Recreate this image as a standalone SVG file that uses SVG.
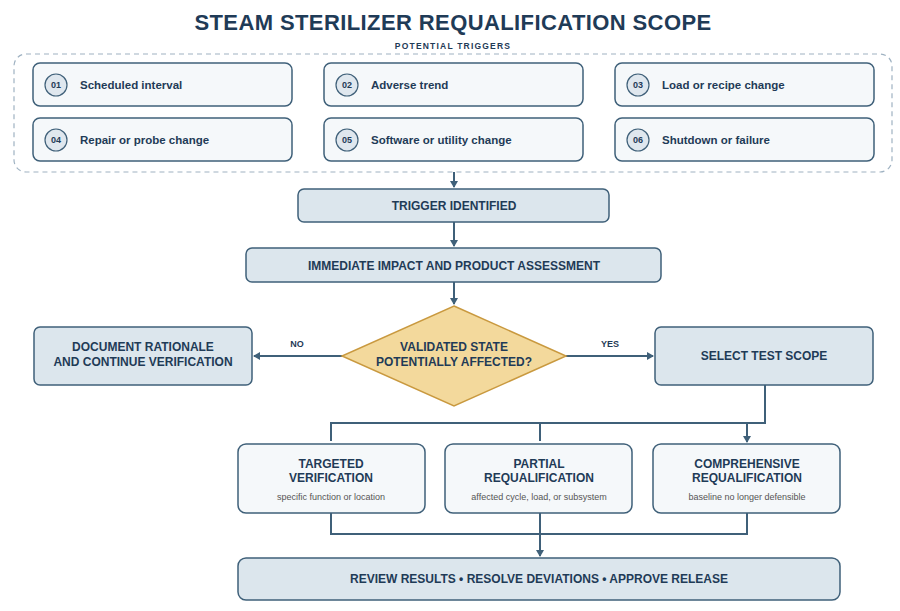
<svg xmlns="http://www.w3.org/2000/svg" width="900" height="611" viewBox="0 0 900 611">
<style>
text{font-family:"Liberation Sans",Arial,sans-serif;fill:#1f3b57;font-weight:bold}
.trig rect{fill:#f5f8fa;stroke:#3f6079;stroke-width:1.5}
.trig circle{fill:#dfe7ee;stroke:#3f6079;stroke-width:1.2}
.num{font-size:9px;text-anchor:middle}
.tl{font-size:11.5px}
.main{fill:#dce6ed;stroke:#3f6079;stroke-width:1.5}
.light{fill:#f5f8fa;stroke:#3f6079;stroke-width:1.5}
.c{text-anchor:middle;font-size:12px}
.sub{font-weight:normal;font-size:9px;fill:#555;text-anchor:middle}
.con{fill:none;stroke:#3f6079;stroke-width:2}
</style>
<defs><marker id="a" markerWidth="8" markerHeight="8" refX="6" refY="4" orient="auto" markerUnits="userSpaceOnUse"><path d="M0,0L7,4L0,8z" fill="#3f6079"/></marker></defs>
<rect width="900" height="611" fill="#fff"/>
<text x="453" y="30" text-anchor="middle" font-size="22" letter-spacing="0.4">STEAM STERILIZER REQUALIFICATION SCOPE</text>
<text x="453" y="49" text-anchor="middle" font-size="8.5" fill="#5a6f80" letter-spacing="1.2">POTENTIAL TRIGGERS</text>
<rect x="14" y="54" width="878" height="118" rx="12" fill="none" stroke="#9fb2c2" stroke-width="1.2" stroke-dasharray="5,4"/>
<g id="t1" class="trig"><rect x="33" y="63" width="259" height="43" rx="7"/><circle cx="56" cy="85" r="11"/><text class="num" x="56" y="88">01</text><text class="tl" x="80" y="89">Scheduled interval</text></g>
<g id="t2" class="trig"><rect x="324" y="63" width="259" height="43" rx="7"/><circle cx="347" cy="85" r="11"/><text class="num" x="347" y="88">02</text><text class="tl" x="371" y="89">Adverse trend</text></g>
<g id="t3" class="trig"><rect x="615" y="63" width="259" height="43" rx="7"/><circle cx="638" cy="85" r="11"/><text class="num" x="638" y="88">03</text><text class="tl" x="662" y="89">Load or recipe change</text></g>
<g id="t4" class="trig"><rect x="33" y="118" width="259" height="43" rx="7"/><circle cx="56" cy="140" r="11"/><text class="num" x="56" y="143">04</text><text class="tl" x="80" y="144">Repair or probe change</text></g>
<g id="t5" class="trig"><rect x="324" y="118" width="259" height="43" rx="7"/><circle cx="347" cy="140" r="11"/><text class="num" x="347" y="143">05</text><text class="tl" x="371" y="144">Software or utility change</text></g>
<g id="t6" class="trig"><rect x="615" y="118" width="259" height="43" rx="7"/><circle cx="638" cy="140" r="11"/><text class="num" x="638" y="143">06</text><text class="tl" x="662" y="144">Shutdown or failure</text></g>
<g id="connectors">
<path class="con" d="M454,172V187" marker-end="url(#a)"/>
<path class="con" d="M454,222V246" marker-end="url(#a)"/>
<path class="con" d="M454,282V304" marker-end="url(#a)"/>
<path class="con" d="M342,356H254" marker-end="url(#a)"/>
<path class="con" d="M566,356H653" marker-end="url(#a)"/>
<path class="con" d="M765,385V423H331V441M540,423V441"/>
<path class="con" d="M747,423V442" marker-end="url(#a)"/>
<path class="con" d="M331,513V534H747V513M540,513V556" marker-end="url(#a)"/>
<text x="297" y="347" text-anchor="middle" font-size="9">NO</text>
<text x="610" y="347" text-anchor="middle" font-size="9">YES</text>
</g>
<g id="trigger"><rect class="main" x="298" y="189" width="311" height="33" rx="6"/><text class="c" x="454" y="210">TRIGGER IDENTIFIED</text></g>
<g id="impact"><rect class="main" x="246" y="248" width="415" height="34" rx="6"/><text class="c" x="454" y="270">IMMEDIATE IMPACT AND PRODUCT ASSESSMENT</text></g>
<g id="decision"><path d="M454,306L566,356L454,406L342,356z" fill="#f3d99c" stroke="#c9993f" stroke-width="1.5"/><text class="c" x="454" y="351">VALIDATED STATE</text><text class="c" x="454" y="366">POTENTIALLY AFFECTED?</text></g>
<g id="doc"><rect class="main" x="34" y="327" width="218" height="58" rx="6"/><text class="c" x="143" y="351">DOCUMENT RATIONALE</text><text class="c" x="143" y="366">AND CONTINUE VERIFICATION</text></g>
<g id="select"><rect class="main" x="655" y="327" width="218" height="58" rx="6"/><text class="c" x="764" y="360">SELECT TEST SCOPE</text></g>
<g id="targeted"><rect class="light" x="238" y="444" width="187" height="69" rx="8"/><text class="c" x="331" y="468" font-size="11.5">TARGETED</text><text class="c" x="331" y="482" font-size="11.5">VERIFICATION</text><text class="sub" x="331" y="500">specific function or location</text></g>
<g id="partial"><rect class="light" x="445" y="444" width="187" height="69" rx="8"/><text class="c" x="539" y="468" font-size="11.5">PARTIAL</text><text class="c" x="539" y="482" font-size="11.5">REQUALIFICATION</text><text class="sub" x="539" y="500">affected cycle, load, or subsystem</text></g>
<g id="comprehensive"><rect class="light" x="653" y="444" width="187" height="69" rx="8"/><text class="c" x="747" y="468" font-size="11.5">COMPREHENSIVE</text><text class="c" x="747" y="482" font-size="11.5">REQUALIFICATION</text><text class="sub" x="747" y="500">baseline no longer defensible</text></g>
<g id="review"><rect class="main" x="238" y="558" width="602" height="42" rx="8"/><text class="c" x="539" y="583">REVIEW RESULTS • RESOLVE DEVIATIONS • APPROVE RELEASE</text></g>
</svg>
